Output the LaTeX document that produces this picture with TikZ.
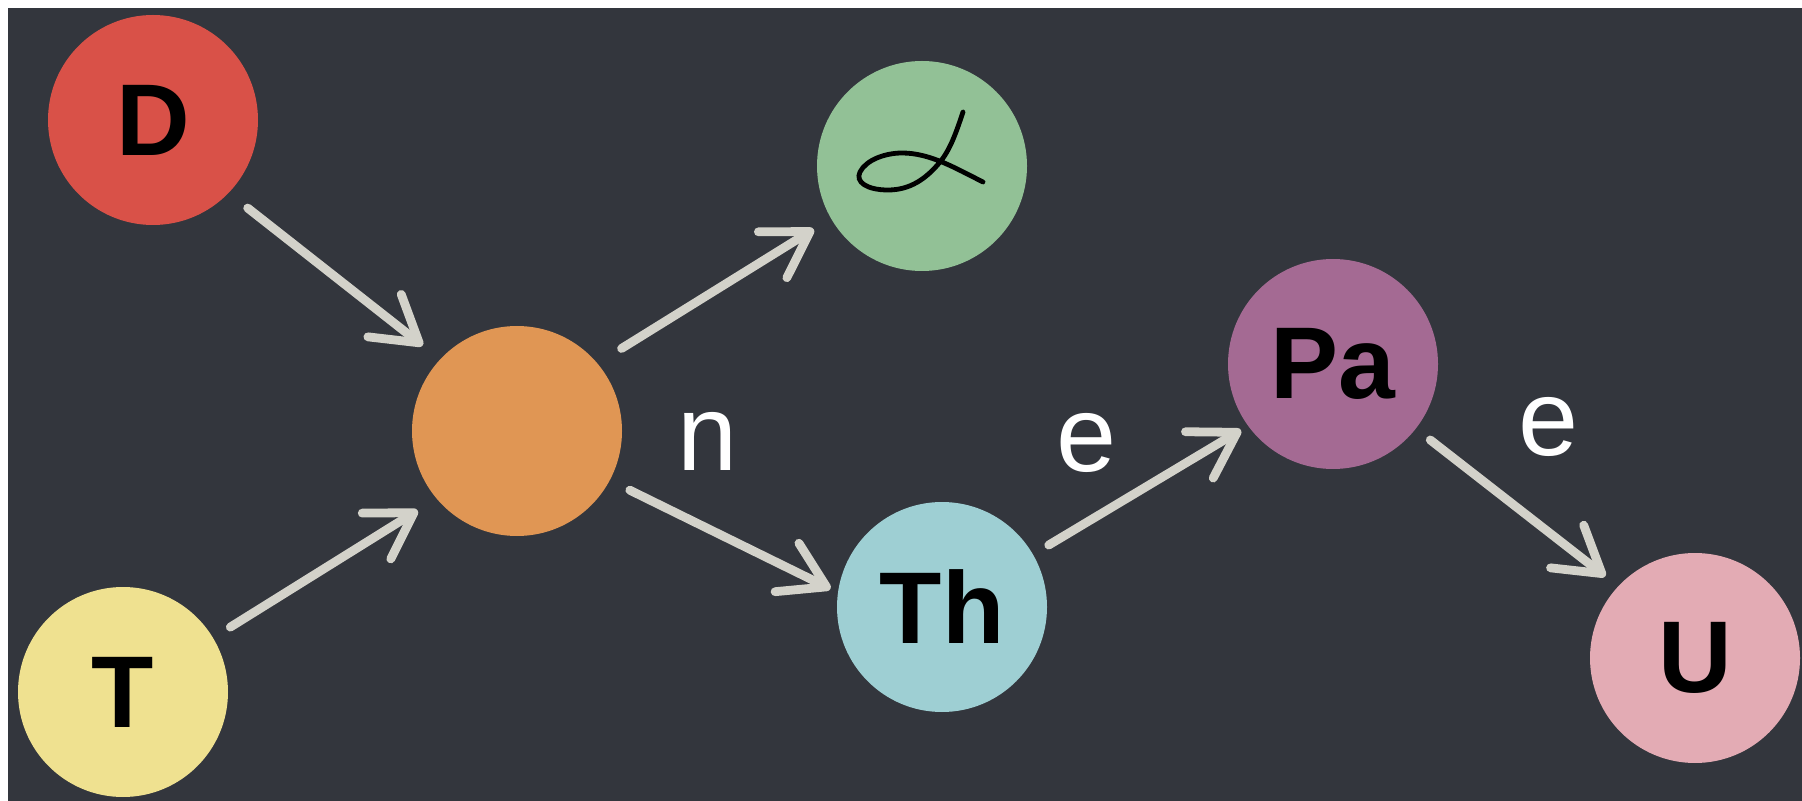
\documentclass[tikz,border=0pt]{standalone}
\usepackage{fontspec}
\setmainfont{Liberation Sans}
\usetikzlibrary{arrows.meta}

\begin{document}
\begin{tikzpicture}[x=0.5pt, y=-0.5pt, >={Straight Barb[length=22pt, width=27pt, line cap=round, line join=round]}]

\definecolor{slatebg}{RGB}{51, 54, 61}
\definecolor{arrowgray}{RGB}{211, 210, 202}
\definecolor{dred}{RGB}{217, 81, 72}
\definecolor{tyellow}{RGB}{239, 225, 144}
\definecolor{compound}{RGB}{224, 150, 84}
\definecolor{alphagreen}{RGB}{146, 193, 150}
\definecolor{thcyan}{RGB}{158, 207, 211}
\definecolor{papurple}{RGB}{164, 106, 147}
\definecolor{upink}{RGB}{227, 171, 180}

% Fill background
\useasboundingbox (0,0) rectangle (1802,801);
\fill[white] (0,0) rectangle (1802,801);
\fill[slatebg] (8,8) rectangle (1802,801);

\tikzset{
    nucleus/.style={
        circle, inner sep=0pt, minimum size=105pt,
        text=black, font=\fontsize{51}{51}\selectfont\bfseries
    },
    decay/.style={
        draw=arrowgray, line width=4.4pt, line cap=round, ->,
        shorten <=10pt, shorten >=8pt
    },
    channel/.style={
        text=white, inner sep=0pt, font=\fontsize{54}{54}\selectfont
    }
}

% --- LEFT SIDE: THE FUSING PAIR ---
\node[nucleus, fill=dred] (D) at (153, 120) {D};
\node[nucleus, fill=tyellow] (T) at (123, 692) {T};
\node[nucleus, fill=compound] (C) at (517, 431) {};

\draw[decay, shorten <=12pt, shorten >=11pt] (D.-44) -- (C.137);
\draw[decay, shorten >=11pt] (T.31) -- (C.220);

% --- MIDDLE: ALPHA AND NEUTRON CAPTURE ---
\node[nucleus, fill=alphagreen] (Al) at (922, 166) {};
\draw[black, line width=2.4pt, line cap=round]
    (963, 112) .. controls (956, 133) and (950, 150) .. (940, 162)
    .. controls (926, 179) and (910, 190) .. (888, 190)
    .. controls (867, 190) and (855, 182) .. (860, 172)
    .. controls (866, 160) and (885, 153) .. (902, 153)
    .. controls (930, 153) and (955, 168) .. (983, 182);
\node[nucleus, fill=thcyan] (Th) at (942, 607) {Th};

\draw[decay, shorten <=14pt, shorten >=10pt] (C.40) -- (Al.210);
\draw[decay, shorten <=11pt, shorten >=4pt] (C.-28) -- (Th.172) node[channel] at (708, 441) {n};

% --- RIGHT SIDE: BETA DECAY CHAIN ---
\node[nucleus, fill=papurple] (Pa) at (1333, 364) {Pa};
\node[nucleus, fill=upink] (U) at (1695, 658) {U};

\draw[decay, shorten <=9pt, shorten >=4pt] (Th.30) -- (Pa.216) node[channel] at (1087, 443) {e};
\draw[decay, shorten <=9pt] (Pa.-38) -- (U.137) node[channel] at (1549, 427) {e};

\end{tikzpicture}
\end{document}
